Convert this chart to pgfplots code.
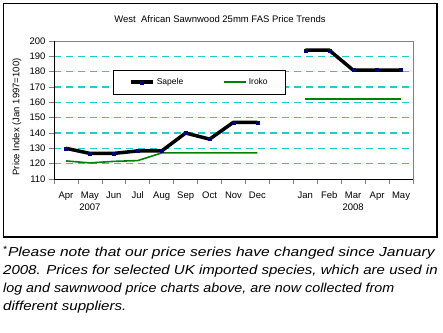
\documentclass[border=0pt]{standalone}
\usepackage{pgfplots}
\pgfplotsset{compat=1.18}
\usepackage{fontspec}
\setmainfont{Liberation Sans}
\definecolor{gridcyan}{RGB}{30,205,205}
\definecolor{irokogreen}{RGB}{0,128,0}
\definecolor{navymark}{RGB}{0,0,128}

\begin{document}
\begin{tikzpicture}
\useasboundingbox (0,0) rectangle (443bp,-333bp);
\draw[line width=1.5bp] (3.5bp,-3.5bp) rectangle (437bp,-237bp);
\node[font=\fontsize{9.5bp}{11bp}\selectfont] at (220bp,-19bp) {West\ \ African Sawnwood 25mm FAS Price Trends};
\begin{axis}[
  at={(54bp,-179bp)}, anchor=south west,
  scale only axis, width=359bp, height=138bp,
  xmin=-0.5, xmax=14.5, ymin=110, ymax=200,
  ytick={120,130,...,190},
  extra y ticks={110,200},
  extra y tick style={grid=none},
  xtick={0,...,14},
  xticklabels={Apr,{May\\2007},Jun,Jul,Aug,Sep,Oct,Nov,Dec,,Jan,Feb,{Mar\\2008},Apr,May},
  minor xtick={-0.5,0.5,...,14.5},
  major x tick style={draw=none},
  xtick pos=left, ytick pos=left,
  tick align=outside,
  major tick length=5bp, minor tick length=5bp,
  tick style={line width=0.7bp},
  /pgf/number format/assume math mode=true,
  ticklabel style={font=\fontsize{9.5bp}{12.5bp}\selectfont},
  xticklabel style={align=center, yshift=-4bp},
  axis line style={gray, line width=1bp},
  ymajorgrids,
  every major grid/.style={draw=gridcyan, dash pattern=on 7bp off 5bp, line width=1.15bp},
  ylabel={Price Index (Jan 1997=100)},
  every axis y label/.style={at={(rel axis cs:0,0.5)}, xshift=-37bp, yshift=-7bp, rotate=90, anchor=center, font=\fontsize{9.5bp}{11bp}\selectfont},
  extra description/.code={\draw[black, line width=0.9bp] (rel axis cs:0,1) -- (rel axis cs:0,0) -- (rel axis cs:1,0);},
  legend columns=2,
  legend style={at={(0.164,0.79)}, anchor=north west, draw=black, line width=0.8bp,
    font=\fontsize{8.5bp}{10bp}\selectfont,
    /tikz/every even column/.append style={column sep=38bp},
    inner xsep=16bp, inner ysep=6bp},
  legend image code/.code={\draw[mark repeat=2, mark phase=2, #1] plot coordinates {(0bp,0bp)(11bp,0bp)(22bp,0bp)};},
]
\addplot[black, line width=3.5bp, mark=square*, mark size=1.5bp,
  mark options={draw=navymark, fill=navymark, line width=0.3bp}]
  coordinates {(0,130)(1,126.7)(2,126.7)(3,128.3)(4,128.3)(5,140)(6,136)(7,147)(8,147)};
\addlegendentry{Sapele}
\addplot[irokogreen, line width=1.6bp]
  coordinates {(0,121.8)(1,120.5)(2,121.5)(3,122)(4,127)(5,127)(6,127)(7,127)(8,127)};
\addlegendentry{Iroko}
\addplot[black, line width=3.5bp, mark=square*, mark size=1.5bp, forget plot,
  mark options={draw=navymark, fill=navymark, line width=0.3bp}]
  coordinates {(10,194)(11,194)(12,181)(13,181)(14,181)};
\addplot[irokogreen, line width=1.6bp, forget plot]
  coordinates {(10,162)(11,162)(12,162)(13,162)(14,162)};
\end{axis}
\begin{scope}[every node/.style={anchor=base west, inner sep=0pt, font=\fontsize{13bp}{18bp}\selectfont\itshape}]
\node at (3bp,-256.5bp) {\scalebox{1.2}[1]{{\upshape\textsuperscript{*}}Please note that our price series have changed since January}};
\node at (3bp,-274.5bp) {\scalebox{1.155}[1]{2008. Prices for selected UK imported species, which are used in}};
\node at (3bp,-292.5bp) {\scalebox{1.1}[1]{log and sawnwood price charts above, are now collected from}};
\node at (3bp,-310.5bp) {\scalebox{1.16}[1]{different suppliers.}};
\end{scope}
\end{tikzpicture}
\end{document}
